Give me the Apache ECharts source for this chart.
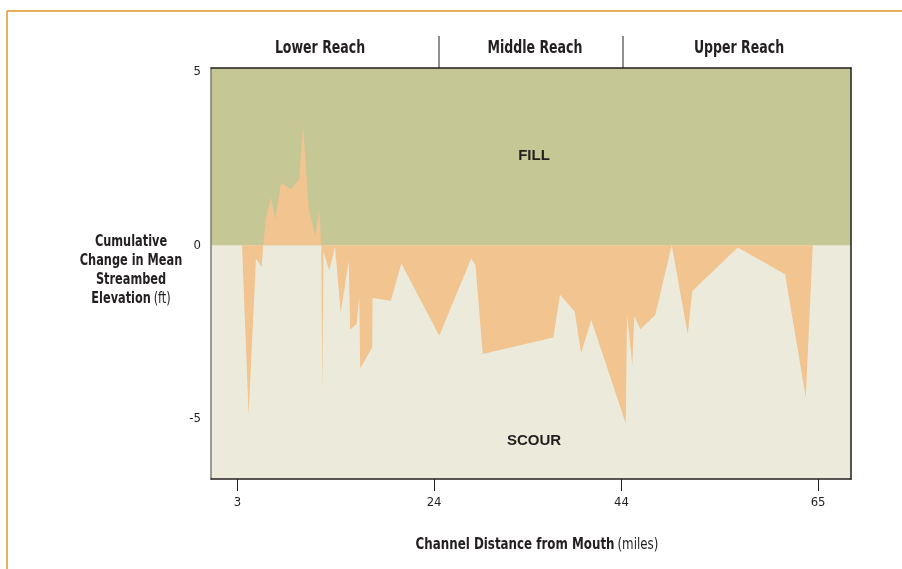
<!DOCTYPE html>
<html lang="en">
<head>
<meta charset="UTF-8">
<title>Cumulative change in streambed elevation</title>
<script src="https://cdn.jsdelivr.net/npm/echarts@6/dist/echarts.min.js"></script>
<style>
  html, body { margin: 0; padding: 0; background: #fff; }
  #chart { width: 902px; height: 569px; }
</style>
</head>
<body>
<div id="chart"></div>
<script>
// channel distance (miles) and cumulative change (ft)
var miles = [3.49, 4.20, 4.98, 5.59, 5.76, 6.02, 6.58, 7.04, 7.65, 8.75,
  9.60, 10.00, 10.61, 11.31, 11.74, 11.95, 12.06, 12.19, 12.81, 13.42,
  14.03, 14.88, 15.04, 15.73, 16.01, 16.11, 17.39, 17.43, 19.38, 20.50,
  24.55, 27.96, 28.42, 29.19, 36.73, 37.44, 39.01, 39.69, 40.78, 44.46,
  44.60, 45.16, 45.38, 46.02, 47.61, 49.37, 51.08, 51.57, 56.42, 61.47,
  63.68, 64.43];
var change = [0, -4.88, -0.39, -0.63, 0, 0.73, 1.37, 0.75, 1.79, 1.61,
  1.90, 3.44, 1.07, 0.27, 1.02, 0, -4.26, -0.19, -0.73, -0.05,
  -1.95, -0.46, -2.43, -2.27, -1.50, -3.56, -2.94, -1.52, -1.60, -0.53,
  -2.61, -0.38, -0.58, -3.13, -2.66, -1.43, -1.91, -3.11, -2.15, -5.13,
  -2.01, -3.45, -2.04, -2.42, -2.01, 0, -2.56, -1.32, -0.07, -0.84,
  -4.38, 0];
var xTicks = [3, 24, 44, 65];
var yTicks = [-5, 0, 5];
var reaches = ['Lower Reach', 'Middle Reach', 'Upper Reach'];

var cond = "'Liberation Sans Narrow', 'DejaVu Sans Condensed', 'Roboto', sans-serif";
var dark = '#231f20';

var data = [];
for (var i = 0; i < miles.length; i++) {
  data.push([miles[i], change[i]]);
}

var myChart = echarts.init(document.getElementById('chart'), null, { renderer: 'canvas' });

// condensed bold text, squeezed horizontally to mimic the narrow face of the original
function label(txt, x, y, size, squeeze) {
  return {
    type: 'text', x: x, y: y, scaleX: squeeze, z: 10,
    style: { text: txt, textAlign: 'center', textVerticalAlign: 'middle', font: 'bold ' + size + 'px ' + cond, fill: dark }
  };
}

var option = {
  animation: false,
  backgroundColor: '#ffffff',
  grid: { left: 211, top: 68, right: 51, bottom: 90 },
  xAxis: [{
    type: 'value',
    min: 0.18,
    max: 68.51,
    z: 3,
    axisLine: { onZero: false, lineStyle: { color: dark, width: 1.5 } },
    axisTick: { show: true, length: 12, customValues: xTicks, lineStyle: { color: dark } },
    axisLabel: { customValues: xTicks, margin: 17, color: dark, fontFamily: cond, fontSize: 13 },
    splitLine: { show: false }
  }, {
    type: 'value',
    position: 'top',
    min: 0.18,
    max: 68.51,
    z: 3,
    axisLine: { show: true, onZero: false, lineStyle: { color: dark, width: 1.5 } },
    axisTick: { show: false },
    axisLabel: { show: false },
    splitLine: { show: false }
  }],
  yAxis: [{
    type: 'value',
    min: -6.73,
    max: 5.1,
    z: 3,
    axisLine: { show: true, onZero: false, lineStyle: { color: '#7d7d74', width: 1.5 } },
    axisTick: { show: false },
    axisLabel: { customValues: yTicks, margin: 10, color: dark, fontFamily: cond, fontSize: 13 },
    splitLine: { show: false }
  }, {
    type: 'value',
    position: 'right',
    min: -6.73,
    max: 5.1,
    z: 3,
    axisLine: { show: true, onZero: false, lineStyle: { color: dark, width: 1.5 } },
    axisTick: { show: false },
    axisLabel: { show: false },
    splitLine: { show: false }
  }],
  series: [{
    type: 'line',
    data: data,
    symbol: 'none',
    lineStyle: { width: 0 },
    areaStyle: { color: '#f2c490', opacity: 1, origin: 0 },
    silent: true,
    markArea: {
      silent: true,
      data: [
        // cream under the whole plot, green over the fill half (no seam at zero)
        [{ yAxis: -6.73, itemStyle: { color: '#ecebdb' } }, { yAxis: 5.1 }],
        [{ yAxis: 0, itemStyle: { color: '#c5c895' } }, { yAxis: 5.1 }]
      ]
    }
  }],
  graphic: [
    // outer orange frame
    { type: 'line', shape: { x1: 7, y1: 11, x2: 902, y2: 11 }, style: { stroke: '#e3932a', lineWidth: 1.5 } },
    { type: 'line', shape: { x1: 7, y1: 11, x2: 7, y2: 569 }, style: { stroke: '#e3932a', lineWidth: 1.5 } },
    // reach header
    { type: 'line', shape: { x1: 439, y1: 36, x2: 439, y2: 68 }, style: { stroke: dark, lineWidth: 1 } },
    { type: 'line', shape: { x1: 623, y1: 36, x2: 623, y2: 68 }, style: { stroke: dark, lineWidth: 1 } },
    label(reaches[0], 320, 49, 17, 0.82),
    label(reaches[1], 535, 49, 17, 0.82),
    label(reaches[2], 739, 49, 17, 0.82),
    // zone labels
    { type: 'text', x: 534, y: 156, z: 10, style: { text: 'FILL', textAlign: 'center', textVerticalAlign: 'middle', font: "bold 15px 'Liberation Sans', Arial, sans-serif", fill: dark } },
    { type: 'text', x: 534, y: 441, z: 10, style: { text: 'SCOUR', textAlign: 'center', textVerticalAlign: 'middle', font: "bold 15px 'Liberation Sans', Arial, sans-serif", fill: dark } },
    // y axis title
    {
      type: 'text', x: 131, y: 271, scaleX: 0.84,
      style: {
        text: '{b|Cumulative}\n{b|Change in Mean}\n{b|Streambed}\n{b|Elevation} {n|(ft)}',
        textAlign: 'center', textVerticalAlign: 'middle',
        rich: {
          b: { fontFamily: cond, fontWeight: 'bold', fontSize: 15, lineHeight: 19, fill: dark },
          n: { fontFamily: cond, fontSize: 15, lineHeight: 19, fill: dark }
        }
      }
    },
    // x axis title
    {
      type: 'text', x: 537, y: 545, scaleX: 0.88,
      style: {
        text: '{b|Channel Distance from Mouth} {n|(miles)}',
        textAlign: 'center', textVerticalAlign: 'middle',
        rich: {
          b: { fontFamily: cond, fontWeight: 'bold', fontSize: 15, fill: dark },
          n: { fontFamily: cond, fontSize: 15, fill: dark }
        }
      }
    }
  ]
};

myChart.setOption(option);
</script>
</body>
</html>
